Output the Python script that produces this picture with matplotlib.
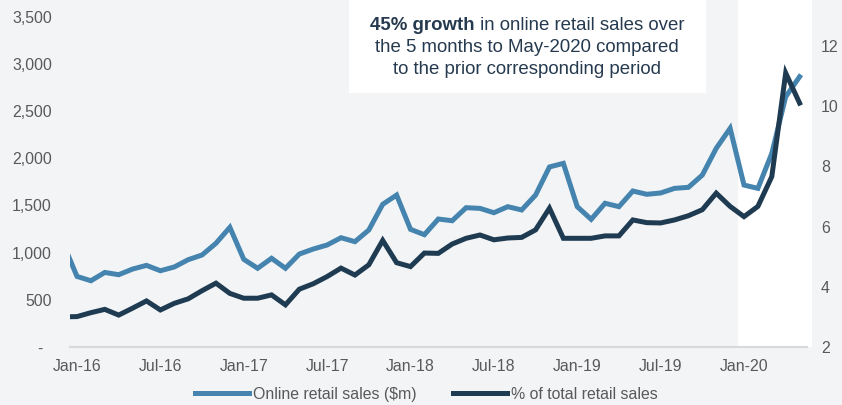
import matplotlib
matplotlib.use("Agg")
import matplotlib.pyplot as plt
import matplotlib.transforms as mtransforms
from matplotlib.patches import Rectangle
from matplotlib.ticker import FuncFormatter
import numpy as np
import pandas as pd

plt.rcParams["font.family"] = ["Liberation Sans", "DejaVu Sans"]

# monthly series, Dec-15 .. May-20
months = pd.date_range("2015-12-01", "2020-05-01", freq="MS")
online_sales = [1100, 748, 702, 790, 766, 826, 865, 808, 848, 925, 975, 1099,
                1268, 929, 834, 940, 834, 985, 1038, 1081, 1158, 1116, 1240,
                1512, 1610, 1247, 1190, 1356, 1338, 1476, 1469, 1423, 1487,
                1452, 1610, 1908, 1946, 1487, 1353, 1523, 1487, 1653, 1618,
                1632, 1681, 1692, 1822, 2105, 2317, 1716, 1681, 2052, 2652,
                2864]
pct_of_total = [3.0, 3.01, 3.14, 3.25, 3.06, 3.29, 3.53, 3.23, 3.45, 3.6,
                3.87, 4.12, 3.78, 3.62, 3.62, 3.73, 3.40, 3.92, 4.1, 4.34,
                4.62, 4.39, 4.73, 5.54, 4.80, 4.67, 5.12, 5.11, 5.42, 5.61,
                5.72, 5.56, 5.62, 5.64, 5.89, 6.61, 5.61, 5.61, 5.61, 5.69,
                5.69, 6.22, 6.13, 6.12, 6.22, 6.36, 6.56, 7.11, 6.67, 6.33,
                6.67, 7.66, 11.10, 10.10]

left_ticks = [0, 500, 1000, 1500, 2000, 2500, 3000, 3500]
right_ticks = [2, 4, 6, 8, 10, 12]

BG = "#f3f4f6"
BLUE = "#4584ae"
NAVY = "#1f3b51"
GREY_TXT = "#595959"
NOTE_TXT = "#263a4f"
FS = 11.4

W, H = 842, 405
fig = plt.figure(figsize=(W / 100, H / 100), dpi=100, facecolor=BG)

x = np.arange(len(months)) - 1  # Jan-16 sits at 0
step = 13.896
left_px, right_px = 77 - 0.5 * step, 77 + 52.5 * step
bottom_px, top_px = 347, 16.7
ax = fig.add_axes([left_px / W, 1 - bottom_px / H,
                   (right_px - left_px) / W, (bottom_px - top_px) / H])
ax.set_facecolor("none")
ax2 = ax.twinx()

# highlight of the latest months
trans = mtransforms.blended_transform_factory(ax.transData, ax.transAxes)
ax.add_patch(Rectangle((47.57, 0), 5.32, 1.1, transform=trans,
                       facecolor="white", edgecolor="none", zorder=0,
                       clip_on=False))

l1, = ax.plot(x, online_sales, color=BLUE, lw=3.6, zorder=3,
              solid_joinstyle="miter", label="Online retail sales ($m)")
l2, = ax2.plot(x, pct_of_total, color=NAVY, lw=3.6, zorder=3,
               solid_joinstyle="miter", label="% of total retail sales")

ax.set_xlim(-0.5, 52.5)
ax.set_ylim(0, 3500)
ax2.set_ylim(2, 12.97)

tick_pos = list(range(0, 49, 6))
ax.set_xticks(tick_pos)
ax.set_xticklabels([months[i + 1].strftime("%b-%y") for i in tick_pos])
ax.set_yticks(left_ticks)
ax.yaxis.set_major_formatter(
    FuncFormatter(lambda v, p: "-  " if v == 0 else f"{v:,.0f}"))
ax2.set_yticks(right_ticks)

ax.tick_params(axis="x", length=0, pad=8.5, labelsize=FS, labelcolor=GREY_TXT)
ax.tick_params(axis="y", length=0, pad=13, labelsize=FS, labelcolor=GREY_TXT)
ax2.tick_params(axis="y", length=0, pad=10.4, labelsize=FS,
                labelcolor=GREY_TXT)

for a in (ax, ax2):
    for s in a.spines.values():
        s.set_visible(False)
ax.spines["bottom"].set_visible(True)
ax.spines["bottom"].set_color("#d9d9d9")
ax.spines["bottom"].set_linewidth(1.5)

# note box
fig.patches.append(Rectangle((349 / W, 1 - 93 / H), (706 - 349) / W, 93 / H,
                             transform=fig.transFigure, facecolor="white",
                             edgecolor="none", zorder=1))
cx = 527 / W
note_fs = 13.4
t_bold = fig.text(0, 1 - 25 / H, "45% growth", fontsize=note_fs,
                  fontweight="bold", color=NOTE_TXT, va="center", zorder=5)
t_reg = fig.text(0, 1 - 25 / H, " in online retail sales over",
                 fontsize=note_fs, color=NOTE_TXT, va="center", zorder=5)
fig.text(cx, 1 - 47 / H, "the 5 months to May-2020 compared",
         fontsize=note_fs, color=NOTE_TXT, ha="center", va="center", zorder=5)
fig.text(cx, 1 - 69 / H, "to the prior corresponding period",
         fontsize=note_fs, color=NOTE_TXT, ha="center", va="center", zorder=5)

fig.canvas.draw()
r = fig.canvas.get_renderer()
wb = t_bold.get_window_extent(r).width
wr = t_reg.get_window_extent(r).width
start = cx * W - (wb + wr) / 2
t_bold.set_x(start / W)
t_reg.set_x((start + wb) / W)

fig.legend(handles=[l1, l2], loc="lower center",
           bbox_to_anchor=(426.5 / W, 0.0), ncol=2, frameon=False,
           fontsize=FS, labelcolor=GREY_TXT, handlelength=3.4,
           handletextpad=0.25, columnspacing=2.3, borderaxespad=0.2,
           borderpad=0)

fig.savefig("out.png", dpi=100, facecolor=BG)
